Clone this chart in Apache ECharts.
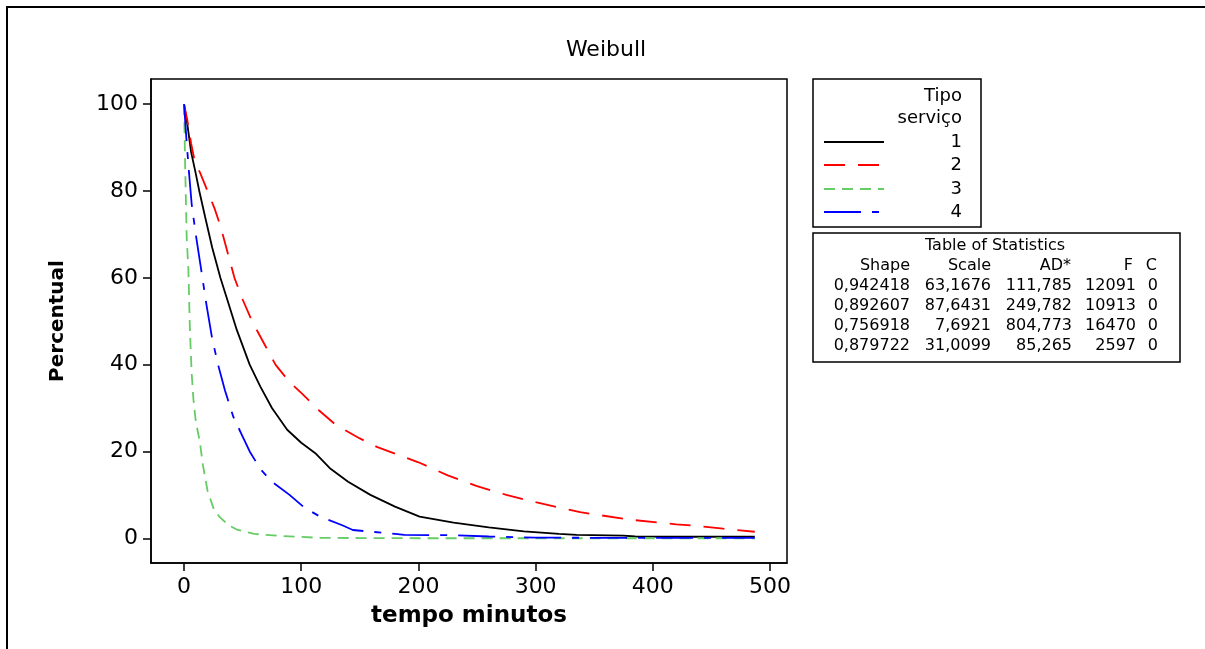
<!DOCTYPE html>
<html>
<head>
<meta charset="utf-8">
<script src="https://cdn.jsdelivr.net/npm/echarts@6/dist/echarts.min.js"></script>
<style>
  html, body { margin: 0; padding: 0; background: #fff; }
  #chart { width: 1205px; height: 649px; }
</style>
</head>
<body>
<div id="chart"></div>
<script>
// Survival (percent still in service) against time in minutes, one curve per service type
const tempo1 = [0, 3, 6, 10, 13, 18, 24, 31, 38, 45, 56, 65, 75, 88, 100, 112, 125, 140, 159, 180, 201, 230, 260, 290, 320, 335, 375, 385, 430, 487];
const perc1  = [100, 95, 89, 84, 80, 74, 67, 60, 54, 48, 40, 35, 30, 25, 22, 19.6, 16, 13, 10, 7.3, 5, 3.6, 2.5, 1.6, 1.0, 0.8, 0.6, 0.4, 0.35, 0.35];

const tempo2 = [0, 3, 6, 9, 14, 20, 26, 31, 39, 43, 50, 58, 70, 78, 90, 100, 115, 130, 150, 165, 180, 200, 225, 250, 275, 300, 338, 380, 420, 440, 460, 487];
const perc2  = [100, 96, 91, 87, 84, 80, 76, 72, 64, 60, 55, 50, 44, 40, 36, 33.5, 29.5, 26, 23, 21, 19.5, 17.5, 14.5, 12, 10, 8.3, 6, 4.3, 3.2, 2.8, 2.2, 1.5];

const tempo3 = [0, 1, 2.3, 3.7, 5, 6.5, 8, 10, 13.6, 16, 20, 25, 30, 38, 45, 52, 60, 70, 85, 100, 115, 150, 200, 300, 400, 487];
const perc3  = [100, 85, 69, 62, 48, 38, 32, 27, 22, 17, 11, 7, 5, 3, 2, 1.5, 1, 0.8, 0.5, 0.3, 0.1, 0.05, 0, 0, 0, 0];

const tempo4 = [0, 2, 4, 6.5, 10, 14, 19, 24, 29, 35, 42, 49, 56, 65, 75, 90, 103, 116, 135, 144, 160, 180, 188, 230, 260, 300, 350, 400, 450, 487];
const perc4  = [100, 92, 85, 77, 70, 63, 54, 46, 40, 34, 28, 24, 20, 16, 13, 10, 7, 5, 3.0, 1.9, 1.5, 1.0, 0.76, 0.7, 0.4, 0.15, 0.1, 0.1, 0.1, 0.1];

const tiposServico = ['1', '2', '3', '4'];
const xTicks = [0, 100, 200, 300, 400, 500];
const yTicks = [0, 20, 40, 60, 80, 100];

// Table of Statistics (Weibull fit per service type)
const statsHeader = ['Shape', 'Scale', 'AD*', 'F', 'C'];
const statsShape = ['0,942418', '0,892607', '0,756918', '0,879722'];
const statsScale = ['63,1676', '87,6431', '7,6921', '31,0099'];
const statsAD    = ['111,785', '249,782', '804,773', '85,265'];
const statsF     = ['12091', '10913', '16470', '2597'];
const statsC     = ['0', '0', '0', '0'];

const FONT = '"DejaVu Sans", Verdana, sans-serif';
const cores = ['#000000', '#ff0000', '#66cc66', '#0000ff'];
const tracos = ['solid', [21, 13], [11, 7], [37, 11, 7, 11]];
const tempos = [tempo1, tempo2, tempo3, tempo4];
const percs = [perc1, perc2, perc3, perc4];

const series = tiposServico.map((nome, k) => ({
  name: nome,
  type: 'line',
  showSymbol: false,
  symbol: 'none',
  animation: false,
  lineStyle: { color: cores[k], width: 1.8, type: tracos[k] },
  data: tempos[k].map((t, i) => [t, percs[k][i]])
}));

// Legend box drawn as graphics
const legendGraphics = [
  { type: 'rect', shape: { x: 813, y: 79, width: 168, height: 148 },
    style: { fill: '#fff', stroke: '#000', lineWidth: 1.5 } },
  { type: 'text', x: 962, y: 96, style: { text: 'Tipo', font: '18px ' + FONT, fill: '#000', align: 'right', verticalAlign: 'middle' } },
  { type: 'text', x: 962, y: 118, style: { text: 'serviço', font: '18px ' + FONT, fill: '#000', align: 'right', verticalAlign: 'middle' } }
];
const legendY = [142, 165, 189, 212];
tiposServico.forEach((nome, k) => {
  legendGraphics.push({
    type: 'line', shape: { x1: 824, y1: legendY[k], x2: 884, y2: legendY[k] },
    style: { stroke: cores[k], lineWidth: 1.8, lineDash: tracos[k] === 'solid' ? null : tracos[k] }
  });
  legendGraphics.push({
    type: 'text', x: 962, y: legendY[k],
    style: { text: nome, font: '18px ' + FONT, fill: '#000', align: 'right', verticalAlign: 'middle' }
  });
});

// Statistics table drawn as graphics
const colRight = [910, 991, 1072, 1136, 1158];
const headerRight = [910, 991, 1071, 1133, 1157];
const rowY = [286, 306, 326, 346];
const statsCols = [statsShape, statsScale, statsAD, statsF, statsC];
const statsGraphics = [
  { type: 'rect', shape: { x: 813, y: 233, width: 367, height: 129 },
    style: { fill: '#fff', stroke: '#000', lineWidth: 1.5 } },
  { type: 'text', x: 995, y: 246, style: { text: 'Table of Statistics', font: '16px ' + FONT, fill: '#000', align: 'center', verticalAlign: 'middle' } }
];
statsHeader.forEach((h, c) => {
  statsGraphics.push({ type: 'text', x: headerRight[c], y: 266,
    style: { text: h, font: '16px ' + FONT, fill: '#000', align: 'right', verticalAlign: 'middle' } });
});
statsCols.forEach((col, c) => {
  col.forEach((v, r) => {
    statsGraphics.push({ type: 'text', x: colRight[c], y: rowY[r],
      style: { text: v, font: '16px ' + FONT, fill: '#000', align: 'right', verticalAlign: 'middle' } });
  });
});

const axisLineStyle = { color: '#000', width: 1.5 };

const option = {
  backgroundColor: '#fff',
  animation: false,
  grid: {
    left: 151, right: 418, top: 79, bottom: 86,
    show: true, borderColor: '#000', borderWidth: 1.5, backgroundColor: 'transparent'
  },
  xAxis: {
    type: 'value', min: -28.2, max: 514.5,
    axisLine: { show: true, onZero: false, lineStyle: axisLineStyle },
    axisTick: { show: true, length: 8, customValues: xTicks, lineStyle: axisLineStyle },
    axisLabel: { customValues: xTicks, fontSize: 22, color: '#000', margin: 13, fontFamily: FONT },
    splitLine: { show: false },
    name: 'tempo minutos', nameLocation: 'middle', nameGap: 42,
    nameTextStyle: { fontSize: 23, fontWeight: 'bold', color: '#000', fontFamily: FONT }
  },
  yAxis: {
    type: 'value', min: -5.7, max: 105.8,
    axisLine: { show: true, onZero: false, lineStyle: axisLineStyle },
    axisTick: { show: true, length: 8, customValues: yTicks, lineStyle: axisLineStyle },
    axisLabel: { customValues: yTicks, fontSize: 22, color: '#000', margin: 13, fontFamily: FONT },
    splitLine: { show: false },
    name: 'Percentual', nameLocation: 'middle', nameGap: 83,
    nameTextStyle: { fontSize: 20, fontWeight: 'bold', color: '#000', fontFamily: FONT }
  },
  graphic: [
    { type: 'rect', z: -10, silent: true, shape: { x: 7, y: 7, width: 1400, height: 900 },
      style: { fill: 'none', stroke: '#000', lineWidth: 2 } },
    { type: 'text', x: 606, y: 50, style: { text: 'Weibull', font: '22px ' + FONT, fill: '#000', align: 'center', verticalAlign: 'middle' } }
  ].concat(legendGraphics, statsGraphics),
  series: series
};

const chart = echarts.init(document.getElementById('chart'), null, { renderer: 'canvas' });
chart.setOption(option);
</script>
</body>
</html>
